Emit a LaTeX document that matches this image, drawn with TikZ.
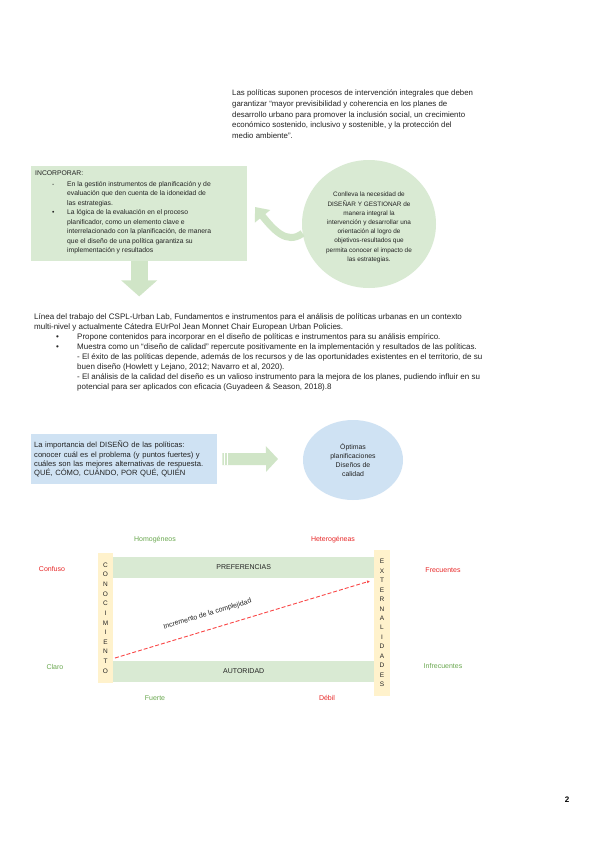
\documentclass[tikz,border=0pt]{standalone}
\usepackage{fontspec}
\setmainfont{Liberation Sans}
\usepackage{xcolor}
\usetikzlibrary{arrows.meta, positioning, calc, shapes.geometric}
\definecolor{softgreen}{RGB}{217,234,211}
\definecolor{arrowgreen}{RGB}{208,229,199}
\definecolor{softblue}{RGB}{207,226,243}
\definecolor{softyellow}{RGB}{255,242,204}
\definecolor{labgreen}{RGB}{106,168,79}
\definecolor{labred}{RGB}{232,40,40}
\definecolor{dashred}{RGB}{250,70,70}
\definecolor{txtgray}{RGB}{35,35,35}
\tikzset{
  para/.style={anchor=north west, inner sep=0, align=left, text=txtgray},
  gpanel/.style={rectangle, fill=softgreen, inner sep=0},
  bpanel/.style={rectangle, fill=softblue, inner sep=0, text=txtgray},
  band/.style={rectangle, fill=softgreen, minimum width=261pt, minimum height=20.5pt,
    inner sep=0, text=txtgray, font=\fontsize{7}{8}\selectfont},
  axisbar/.style={rectangle, fill=softyellow, minimum width=15.5pt, inner sep=0,
    align=center, text=txtgray},
  glab/.style={text=labgreen, font=\fontsize{7}{8}\selectfont},
  rlab/.style={text=labred, font=\fontsize{7}{8}\selectfont},
  blockarrow/.style={arrowgreen},
  cplx/.style={dashred, line width=0.9pt, dash pattern=on 4pt off 2pt, -{Latex[length=3pt,width=3pt]}}
}
\begin{document}
\begin{tikzpicture}[x=1pt, y=-1pt]
  \useasboundingbox (0,0) rectangle (600,848);
  \fill[white] (0,0) rectangle (600,848);

  % opening paragraph
  \node[para, font=\fontsize{7.85}{10.6}\selectfont] (intro) at (232,90)
    {Las políticas suponen procesos de intervención integrales que deben\\
     garantizar “mayor previsibilidad y coherencia en los planes de\\
     desarrollo urbano para promover la inclusión social, un crecimiento\\
     económico sostenido, inclusivo y sostenible, y la protección del\\
     medio ambiente”.};

  % incorporate panel and circle
  \node[gpanel, minimum width=216pt, minimum height=95pt, anchor=north west] (inc) at (31,166) {};
  \node[para, font=\fontsize{6.8}{9.5}\selectfont] (inctxt) at (35,171)
    {INCORPORAR:\\[1pt]
     \hspace*{17pt}\makebox[15pt][l]{-}En la gestión instrumentos de planificación y de\\
     \hspace*{32pt}evaluación que den cuenta de la idoneidad de\\
     \hspace*{32pt}las estrategias.\\
     \hspace*{17pt}\makebox[15pt][l]{\textbullet}La lógica de la evaluación en el proceso\\
     \hspace*{32pt}planificador, como un elemento clave e\\
     \hspace*{32pt}interrelacionado con la planificación, de manera\\
     \hspace*{32pt}que el diseño de una política garantiza su\\
     \hspace*{32pt}implementación y resultados};
  \coordinate (incdown) at ([yshift=-35pt]inc.south);
  \draw[blockarrow, line width=17pt, -{Triangle[width=35pt,length=16pt]}] (inc.south) -- (incdown);

  \node[ellipse, fill=softgreen, minimum width=134pt, minimum height=128pt, inner sep=0] (cir) at (369,224) {};
  \node[font=\fontsize{6.4}{9.2}\selectfont, align=center, text=txtgray] (cirtxt) at ([yshift=-3.5pt]cir.center)
    {Conlleva la necesidad de\\ DISEÑAR Y GESTIONAR de\\ manera integral la\\
     intervención y desarrollar una\\ orientación al logro de\\ objetivos-resultados que\\
     permita conocer el impacto de\\ las estrategias.};
  \coordinate (curltip) at (255,207);
  \draw[blockarrow, line width=7pt, -{Triangle[width=19pt,length=12pt]}]
    (cir.188) .. controls +(-16,12) and +(18,22) .. (curltip);

  % research line
  \node[para, font=\fontsize{8}{10.1}\selectfont] (lab) at (34,313)
    {Línea del trabajo del CSPL-Urban Lab, Fundamentos e instrumentos para el análisis de políticas urbanas en un contexto\\
     multi-nivel y actualmente Cátedra EUrPol Jean Monnet Chair European Urban Policies.\\
     \hspace*{22pt}\makebox[21pt][l]{\textbullet}Propone contenidos para incorporar en el diseño de políticas e instrumentos para su análisis empírico.\\
     \hspace*{22pt}\makebox[21pt][l]{\textbullet}Muestra como un “diseño de calidad” repercute positivamente en la implementación y resultados de las políticas.\\
     \hspace*{43pt}- El éxito de las políticas depende, además de los recursos y de las oportunidades existentes en el territorio, de su\\
     \hspace*{43pt}buen diseño (Howlett y Lejano, 2012; Navarro et al, 2020).\\
     \hspace*{43pt}- El análisis de la calidad del diseño es un valioso instrumento para la mejora de los planes, pudiendo influir en su\\
     \hspace*{43pt}potencial para ser aplicados con eficacia (Guyadeen \& Season, 2018).8};

  % design importance
  \node[bpanel, minimum width=186pt, minimum height=50pt, text width=180pt, inner xsep=3pt,
    anchor=north west, align=left, font=\fontsize{7.6}{9.3}\selectfont] (imp) at (31,434)
    {La importancia del DISEÑO de las políticas:\\
     conocer cuál es el problema (y puntos fuertes) y\\
     cuáles son las mejores alternativas de respuesta.\\
     QUÉ, CÓMO, CUÁNDO, POR QUÉ, QUIÉN};
  \coordinate (impgo) at (278,459);
  \draw[blockarrow, line width=12pt, -{Triangle[width=25pt,length=12pt]}] ([xshift=5pt]imp.east) -- (impgo);
  \foreach \dx in {7,9.5}
    \draw[white, line width=0.7pt] ([xshift=\dx pt, yshift=6pt]imp.east) -- ([xshift=\dx pt, yshift=-6pt]imp.east);
  \node[ellipse, fill=softblue, minimum width=100pt, minimum height=80pt, inner sep=0, align=center,
    font=\fontsize{6.9}{9}\selectfont, text=txtgray] (opt) at (353,460)
    {Óptimas\\ planificaciones\\ Diseños de\\ calidad};

  % complexity matrix
  \node[axisbar, minimum height=130pt, font=\fontsize{6.5}{9.64}\selectfont] (kno) at (105.5,618)
    {C\\O\\N\\O\\C\\I\\M\\I\\E\\N\\T\\O};
  \node[axisbar, minimum height=146pt, font=\fontsize{6.5}{9.46}\selectfont] (ext) at (382,623)
    {E\\X\\T\\E\\R\\N\\A\\L\\I\\D\\A\\D\\E\\S};
  \node[band, anchor=north west] (pref) at (113,557) {PREFERENCIAS};
  \node[band, anchor=north west] (aut) at (113,661) {AUTORIDAD};
  \coordinate (cplxa) at (115,658);
  \coordinate (cplxb) at (370,581);
  \draw[cplx] (cplxa) -- node[pos=0.38, sloped, above=8pt, text=txtgray, font=\fontsize{7}{8}\selectfont] (cplxlbl)
    {Incremento de la complejidad} (cplxb);

  \node[glab] (homo) at (155,540) {Homogéneos};
  \node[rlab] (hete) at (333,540) {Heterogéneas};
  \node[rlab] (conf) at (52,569) {Confuso};
  \node[glab] (clar) at (55,667) {Claro};
  \node[rlab] (freq) at (443,570) {Frecuentes};
  \node[glab] (infq) at (443,666) {Infrecuentes};
  \node[glab] (fuer) at (155,698) {Fuerte};
  \node[rlab] (debi) at (327,698) {Débil};

  \node[font=\bfseries\fontsize{8}{9}\selectfont] (pg) at (567,800) {2};
\end{tikzpicture}
\end{document}
